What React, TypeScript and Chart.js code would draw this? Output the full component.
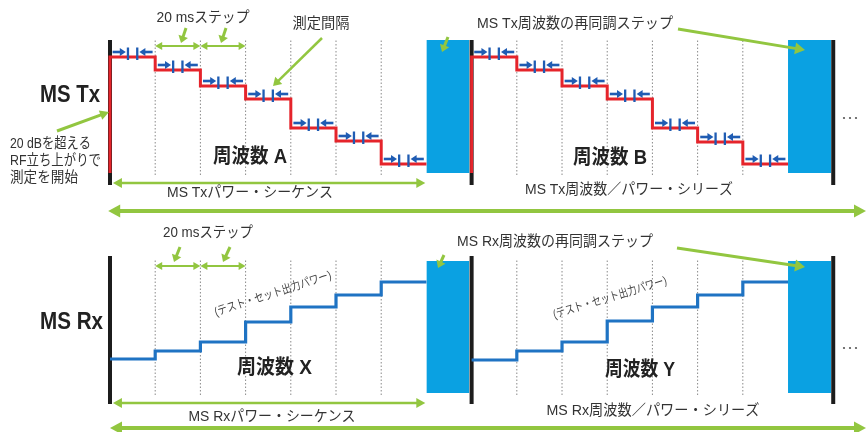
import React, { useEffect, useRef } from 'react';
import { Chart, registerables } from 'chart.js';

Chart.register(...registerables);

// ---------- data ----------
const STEP_MS = 20;
const STEP_STARTS = [0, 20, 40, 60, 80, 100, 120]; // ms within a cycle
const CYCLE_STARTS = [0, 160]; // ms
const SEQUENCE_END = 140; // ms, end of power steps in a cycle
const RETUNE_START = 140; // ms within cycle
const RETUNE_END = 159; // ms within cycle
const BOUNDARY_TIMES = [0, 160, 320]; // black markers (ms)
const GRID_TIMES = [20, 40, 60, 80, 100, 120]; // dotted lines within cycle

const TX_LEVELS_A = [23.2, 20.6, 17.4, 14.8, 9.0, 6.4, 1.8]; // dB
const TX_LEVELS_B = [23.2, 20.6, 17.4, 14.8, 9.0, 6.2, 1.8];
const RX_LEVELS_X = [6.8, 8.4, 10.2, 14.2, 17.2, 19.6, 22.2];
const RX_LEVELS_Y = [6.6, 8.4, 10.2, 14.4, 17.2, 19.6, 22.2];
const TX_RISE_FROM = 0;
const RETUNE_TOP_TX = 26.6;
const RETUNE_TOP_RX = 26.4;
const BAR_RANGE_TX = [-2.4, 26.6];
const BAR_RANGE_RX = [-2.2, 27.4];
const GRID_RANGE = [-0.4, 26.6];

const TX_LEVELS = [TX_LEVELS_A, TX_LEVELS_B];
const RX_LEVELS = [RX_LEVELS_X, RX_LEVELS_Y];

// ---------- styles ----------
const RED = '#e5242b';
const RXBLUE = '#1f73c3';
const RECT = '#0aa1e2';
const MARK = '#1f5cb3';
const GREEN = '#92c640';
const BLACK = '#1c1c1c';
const TEXT = '#333333';
const FONT = '"Liberation Sans Narrow", "Liberation Sans", "Noto Sans CJK JP", sans-serif';

function txt(ctx: any, s: string, x: number, y: number, size: number, width: number, o: any = {}) {
  ctx.save();
  ctx.font = `${o.bold ? 'bold ' : ''}${size}px ${FONT}`;
  const w = ctx.measureText(s).width;
  ctx.translate(x, y);
  if (o.angle) ctx.rotate((o.angle * Math.PI) / 180);
  ctx.scale(width / w, 1);
  ctx.textAlign = o.align || 'center';
  ctx.textBaseline = 'middle';
  ctx.fillStyle = o.color || TEXT;
  ctx.fillText(s, 0, 0);
  ctx.restore();
}

function head(ctx: any, x: number, y: number, ang: number, len: number, hw: number) {
  const c = Math.cos(ang), s = Math.sin(ang);
  ctx.beginPath();
  ctx.moveTo(x, y);
  ctx.lineTo(x - len * c + hw * s, y - len * s - hw * c);
  ctx.lineTo(x - len * c - hw * s, y - len * s + hw * c);
  ctx.closePath();
  ctx.fill();
}

function arrow(ctx: any, x1: number, y1: number, x2: number, y2: number, o: any = {}) {
  const lw = o.lw ?? 2, len = o.len ?? 7, hw = o.hw ?? 4, color = o.color || GREEN;
  const ang = Math.atan2(y2 - y1, x2 - x1);
  const c = Math.cos(ang), s = Math.sin(ang);
  ctx.save();
  ctx.strokeStyle = color;
  ctx.fillStyle = color;
  ctx.lineWidth = lw;
  ctx.lineCap = 'butt';
  ctx.beginPath();
  const sx = o.both ? x1 + c * len * 0.7 : x1;
  const sy = o.both ? y1 + s * len * 0.7 : y1;
  ctx.moveTo(sx, sy);
  ctx.lineTo(x2 - c * len * 0.7, y2 - s * len * 0.7);
  ctx.stroke();
  head(ctx, x2, y2, ang, len, hw);
  if (o.both) head(ctx, x1, y1, ang + Math.PI, len, hw);
  ctx.restore();
}

const annotate = {
  id: 'annotate',
  afterDatasetsDraw(chart: any) {
    const ctx = chart.ctx;
    const X = (v: number) => chart.scales.x.getPixelForValue(v);
    const YT = (v: number) => chart.scales.yTx.getPixelForValue(v);

    // measurement interval markers on Tx steps
    CYCLE_STARTS.forEach((c, ci) => {
      STEP_STARTS.forEach((t, i) => {
        const xc = X(c + t + STEP_MS / 2);
        const py = YT(TX_LEVELS[ci][i]);
        ctx.save();
        ctx.fillStyle = MARK;
        ctx.fillRect(xc - 5.8, py - 9.5, 2.3, 12.5);
        ctx.fillRect(xc + 3.5, py - 9.5, 2.3, 12.5);
        ctx.restore();
        arrow(ctx, xc - 20, py - 5, xc - 6.8, py - 5, { lw: 2.6, len: 6, hw: 4, color: MARK });
        arrow(ctx, xc + 20, py - 5, xc + 6.8, py - 5, { lw: 2.6, len: 6, hw: 4, color: MARK });
      });
    });

    // ---- top panel ----
    txt(ctx, '20 msステップ', 203, 18, 14.5, 93);
    arrow(ctx, X(20), 46, X(40), 46, { both: true, lw: 2, len: 7, hw: 4 });
    arrow(ctx, X(40), 46, X(60), 46, { both: true, lw: 2, len: 7, hw: 4 });
    arrow(ctx, 186, 28, 181, 43, { lw: 3, len: 7, hw: 5 });
    arrow(ctx, 226, 28, 221, 43, { lw: 3, len: 7, hw: 5 });
    txt(ctx, '測定間隔', 321, 24, 14.5, 57);
    arrow(ctx, 322, 38, 273, 86, { lw: 2.5, len: 8, hw: 5 });
    txt(ctx, 'MS Tx周波数の再同調ステップ', 575, 24, 14.5, 196);
    arrow(ctx, 678, 29, 805, 50, { lw: 3, len: 10, hw: 6 });
    arrow(ctx, 448, 37, 442, 52, { lw: 3, len: 7, hw: 5 });
    txt(ctx, 'MS Tx', 40, 96, 23, 60, { bold: true, align: 'left', color: '#222' });
    txt(ctx, '20 dBを超える', 10, 144, 14.5, 81, { align: 'left' });
    txt(ctx, 'RF立ち上がりで', 10, 161, 14.5, 91, { align: 'left' });
    txt(ctx, '測定を開始', 10, 178, 14.5, 68, { align: 'left' });
    arrow(ctx, 57, 131, 109, 112, { lw: 3, len: 9, hw: 5 });
    txt(ctx, '周波数 A', 213, 157, 20, 74, { bold: true, align: 'left', color: '#222' });
    txt(ctx, '周波数 B', 573, 158, 20, 74, { bold: true, align: 'left', color: '#222' });
    arrow(ctx, X(1.3), 183, X(SEQUENCE_END - 0.5), 183, { both: true, lw: 2.5, len: 9, hw: 5 });
    txt(ctx, 'MS Txパワー・シーケンス', 250, 193, 14.5, 166);
    txt(ctx, 'MS Tx周波数／パワー・シリーズ', 629, 190, 14.5, 208);
    arrow(ctx, X(-0.8), 211, 866, 211, { both: true, lw: 4, len: 12, hw: 6.5 });

    // ---- bottom panel ----
    txt(ctx, '20 msステップ', 208, 233, 14.5, 90);
    arrow(ctx, X(20), 266, X(40), 266, { both: true, lw: 2, len: 7, hw: 4 });
    arrow(ctx, X(40), 266, X(60), 266, { both: true, lw: 2, len: 7, hw: 4 });
    arrow(ctx, 180, 247, 174, 262, { lw: 3, len: 7, hw: 5 });
    arrow(ctx, 230, 247, 223, 262, { lw: 3, len: 7, hw: 5 });
    txt(ctx, 'MS Rx', 40, 323, 23, 63, { bold: true, align: 'left', color: '#222' });
    txt(ctx, '周波数 X', 237, 368, 20, 75, { bold: true, align: 'left', color: '#222' });
    txt(ctx, '周波数 Y', 605, 370, 20, 70, { bold: true, align: 'left', color: '#222' });
    txt(ctx, '(テスト・セット出力パワー)', 273, 294, 12, 122, { angle: -18, color: '#444' });
    txt(ctx, '(テスト・セット出力パワー)', 610, 298, 12, 118, { angle: -17, color: '#444' });
    txt(ctx, 'MS Rx周波数の再同調ステップ', 555, 242, 14.5, 196);
    arrow(ctx, 677, 248, 805, 267, { lw: 3, len: 10, hw: 6 });
    arrow(ctx, 444, 255, 438, 268, { lw: 3, len: 7, hw: 5 });
    arrow(ctx, X(1.3), 403, X(SEQUENCE_END - 0.5), 403, { both: true, lw: 2.5, len: 9, hw: 5 });
    txt(ctx, 'MS Rxパワー・シーケンス', 272, 417, 14.5, 167);
    txt(ctx, 'MS Rx周波数／パワー・シリーズ', 653, 411, 14.5, 213);
    arrow(ctx, X(0), 428, 866, 428, { both: true, lw: 4, len: 12, hw: 6.5 });

    // ellipsis
    ctx.save();
    ctx.fillStyle = '#555';
    [118, 348].forEach((yy) => {
      [844, 850, 856].forEach((xx) => {
        ctx.beginPath();
        ctx.arc(xx, yy, 1.1, 0, Math.PI * 2);
        ctx.fill();
      });
    });
    ctx.restore();
  },
};

function buildDatasets() {
  const ds: any[] = [];
  const none = { pointRadius: 0, pointHoverRadius: 0, tension: 0, spanGaps: false };
  // step lines
  CYCLE_STARTS.forEach((c, ci) => {
    const lv = TX_LEVELS[ci];
    const data = [{ x: c, y: TX_RISE_FROM }, ...STEP_STARTS.map((t, i) => ({ x: c + t, y: lv[i] })), { x: c + SEQUENCE_END, y: lv[lv.length - 1] }];
    ds.push({ ...none, label: 'Tx' + ci, data, yAxisID: 'yTx', stepped: 'before', borderColor: RED, borderWidth: 3, fill: false, order: 1 });
  });
  CYCLE_STARTS.forEach((c, ci) => {
    const lv = RX_LEVELS[ci];
    const data = [...STEP_STARTS.map((t, i) => ({ x: c + t, y: lv[i] })), { x: c + SEQUENCE_END, y: lv[lv.length - 1] }];
    ds.push({ ...none, label: 'Rx' + ci, data, yAxisID: 'yRx', stepped: 'before', borderColor: RXBLUE, borderWidth: 3.2, fill: false, order: 1 });
  });
  // black boundary bars
  const bars = (r: number[]) => {
    const out: any[] = [];
    BOUNDARY_TIMES.forEach((t, i) => {
      if (i > 0) out.push({ x: t, y: null });
      out.push({ x: t, y: r[0] }, { x: t, y: r[1] });
    });
    return out;
  };
  ds.push({ ...none, label: 'barTx', data: bars(BAR_RANGE_TX), yAxisID: 'yTx', borderColor: BLACK, borderWidth: 4, fill: false, order: 2 });
  ds.push({ ...none, label: 'barRx', data: bars(BAR_RANGE_RX), yAxisID: 'yRx', borderColor: BLACK, borderWidth: 4, fill: false, order: 2 });
  // retune rectangles
  CYCLE_STARTS.forEach((c) => {
    ds.push({ ...none, label: 'reTx', data: [{ x: c + RETUNE_START, y: RETUNE_TOP_TX }, { x: c + RETUNE_END, y: RETUNE_TOP_TX }], yAxisID: 'yTx', borderWidth: 0, borderColor: RECT, backgroundColor: RECT, fill: 'origin', order: 3 });
    ds.push({ ...none, label: 'reRx', data: [{ x: c + RETUNE_START, y: RETUNE_TOP_RX }, { x: c + RETUNE_END, y: RETUNE_TOP_RX }], yAxisID: 'yRx', borderWidth: 0, borderColor: RECT, backgroundColor: RECT, fill: 'origin', order: 3 });
  });
  // dotted step boundaries
  const grid = () => {
    const out: any[] = [];
    CYCLE_STARTS.forEach((c) => {
      GRID_TIMES.forEach((t) => {
        if (out.length) out.push({ x: c + t, y: null });
        out.push({ x: c + t, y: GRID_RANGE[0] }, { x: c + t, y: GRID_RANGE[1] });
      });
    });
    return out;
  };
  ds.push({ ...none, label: 'gTx', data: grid(), yAxisID: 'yTx', borderColor: '#8a8a8a', borderWidth: 1, borderDash: [1.5, 2], fill: false, order: 4 });
  ds.push({ ...none, label: 'gRx', data: grid(), yAxisID: 'yRx', borderColor: '#8a8a8a', borderWidth: 1, borderDash: [1.5, 2], fill: false, order: 4 });
  return ds;
}

export default function App() {
  const ref = useRef<HTMLCanvasElement>(null);
  useEffect(() => {
    if (!ref.current) return;
    const chart = new Chart(ref.current, {
      type: 'line',
      data: { datasets: buildDatasets() },
      options: {
        responsive: false,
        animation: false,
        events: [],
        layout: { padding: 0 },
        plugins: { legend: { display: false }, tooltip: { enabled: false } },
        scales: {
          x: { type: 'linear', min: -48.67, max: 334.5, display: false },
          yTx: { type: 'linear', min: -51.8, max: 34.6, display: false },
          yRx: { type: 'linear', min: -7.8, max: 78.6, display: false },
        },
      },
      plugins: [annotate],
    } as any);
    return () => chart.destroy();
  }, []);
  return (
    <div style={{ position: 'fixed', left: 0, top: 0, width: 866, height: 432, background: '#fff' }}>
      <canvas ref={ref} width={866} height={432} style={{ display: 'block' }} />
    </div>
  );
}
